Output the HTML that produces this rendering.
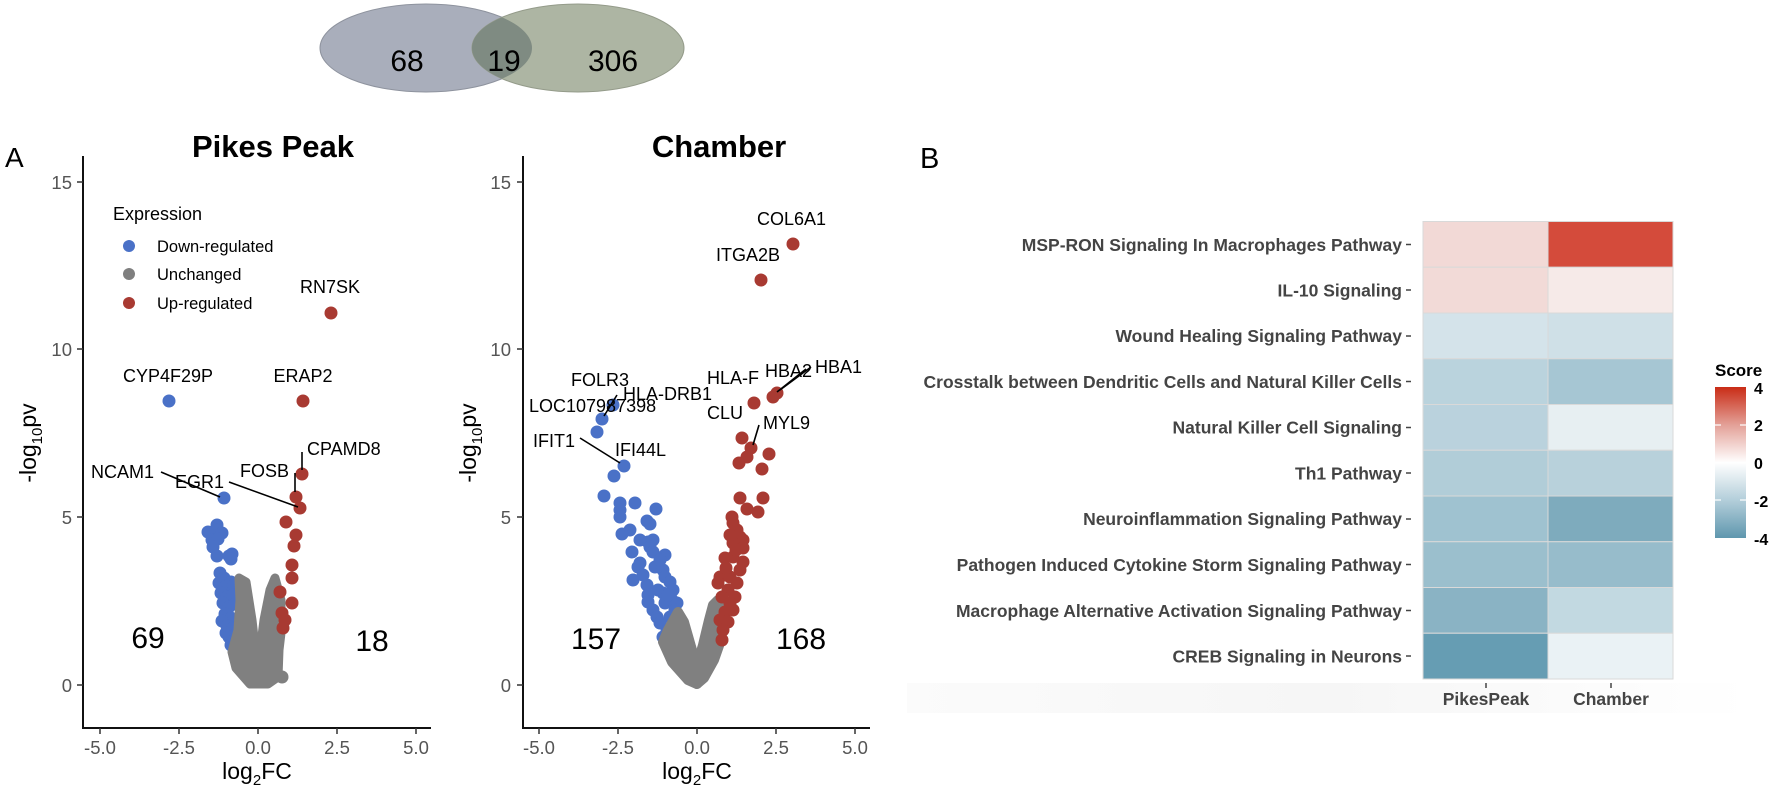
<!DOCTYPE html>
<html><head><meta charset="utf-8"><style>
html,body{margin:0;padding:0;background:#fff;}
svg{display:block;}
text{font-family:"Liberation Sans",Arial,sans-serif;}
</style></head><body>
<svg width="1772" height="791" viewBox="0 0 1772 791" xmlns="http://www.w3.org/2000/svg">
<defs>
<linearGradient id="cb" x1="0" y1="0" x2="0" y2="1">
<stop offset="0" stop-color="#c92c16"/>
<stop offset="0.25" stop-color="#e3a097"/>
<stop offset="0.5" stop-color="#ffffff"/>
<stop offset="0.75" stop-color="#b3ceda"/>
<stop offset="1" stop-color="#5f97ae"/>
</linearGradient>
<linearGradient id="shade" x1="0" y1="0" x2="1" y2="0">
<stop offset="0" stop-color="#fbfbfb"/>
<stop offset="0.5" stop-color="#f6f6f6"/>
<stop offset="1" stop-color="#ffffff"/>
</linearGradient>
</defs>

<!-- Venn -->
<ellipse cx="426" cy="48" rx="106" ry="44" fill="#a9aebb" stroke="#8e939e" stroke-width="1"/>
<ellipse cx="578" cy="48" rx="106" ry="44" fill="#adb5a3" stroke="#949b8a" stroke-width="1"/>
<clipPath id="vc"><ellipse cx="426" cy="48" rx="106" ry="44"/></clipPath>
<ellipse cx="578" cy="48" rx="106" ry="44" fill="#7f8b82" clip-path="url(#vc)"/>
<text x="407" y="71" font-size="30" text-anchor="middle">68</text>
<text x="504" y="71" font-size="30" text-anchor="middle">19</text>
<text x="613" y="71" font-size="30" text-anchor="middle">306</text>

<!-- Panel letters -->
<text x="5" y="167" font-size="28">A</text>
<text x="920" y="168" font-size="29">B</text>

<!-- ===== Pikes Peak ===== -->
<text x="273" y="157" font-size="31" font-weight="bold" text-anchor="middle">Pikes Peak</text>
<g stroke="#111" stroke-width="2" fill="none">
<line x1="83" y1="156" x2="83" y2="729"/>
<line x1="82" y1="728" x2="431" y2="728"/>
</g>
<g stroke="#333" stroke-width="1.5">
<line x1="77" y1="182" x2="83" y2="182"/><line x1="77" y1="349" x2="83" y2="349"/>
<line x1="77" y1="517" x2="83" y2="517"/><line x1="77" y1="685" x2="83" y2="685"/>
<line x1="100" y1="728" x2="100" y2="734"/><line x1="179" y1="728" x2="179" y2="734"/>
<line x1="258" y1="728" x2="258" y2="734"/><line x1="337" y1="728" x2="337" y2="734"/>
<line x1="416" y1="728" x2="416" y2="734"/>
</g>
<g font-size="18.5" fill="#555" text-anchor="end">
<text x="72" y="189">15</text><text x="72" y="356">10</text>
<text x="72" y="524">5</text><text x="72" y="692">0</text>
</g>
<g font-size="18.5" fill="#555" text-anchor="middle">
<text x="100" y="754">-5.0</text><text x="179" y="754">-2.5</text><text x="258" y="754">0.0</text>
<text x="337" y="754">2.5</text><text x="416" y="754">5.0</text>
</g>
<text x="257" y="779" font-size="23" text-anchor="middle">log<tspan font-size="15" dy="6">2</tspan><tspan dy="-6">FC</tspan></text>
<text transform="translate(36,443) rotate(-90)" font-size="23" text-anchor="middle">-log<tspan font-size="15" dy="6">10</tspan><tspan dy="-6">pv</tspan></text>

<!-- legend -->
<text x="113" y="220" font-size="18">Expression</text>
<circle cx="129" cy="246" r="6" fill="#4a71c7"/>
<circle cx="129" cy="274" r="6" fill="#7f7f7f"/>
<circle cx="129" cy="303" r="6" fill="#a83a32"/>
<g font-size="16.5"><text x="157" y="252">Down-regulated</text><text x="157" y="280">Unchanged</text><text x="157" y="309">Up-regulated</text></g>

<!-- Pikes blue -->
<g fill="#4a71c7">
<circle cx="169" cy="401" r="6.5"/>
<circle cx="224" cy="498" r="6.5"/>
<circle cx="217" cy="525" r="6.5"/><circle cx="208" cy="532" r="6.5"/><circle cx="216" cy="530" r="6.5"/>
<circle cx="222" cy="533" r="6.5"/><circle cx="212" cy="540" r="6.5"/><circle cx="218" cy="539" r="6.5"/>
<circle cx="213" cy="547" r="6.5"/><circle cx="217" cy="556" r="6.5"/><circle cx="229" cy="556" r="6.5"/>
<circle cx="232" cy="554" r="6.5"/><circle cx="231" cy="559" r="6.5"/>
<circle cx="220" cy="573" r="6.5"/><circle cx="224" cy="578" r="6.5"/><circle cx="219" cy="583" r="6.5"/>
<circle cx="225" cy="587" r="6.5"/><circle cx="231" cy="582" r="6.5"/><circle cx="234" cy="585" r="6.5"/>
<circle cx="221" cy="593" r="6.5"/><circle cx="227" cy="597" r="6.5"/><circle cx="233" cy="595" r="6.5"/>
<circle cx="223" cy="603" r="6.5"/><circle cx="229" cy="607" r="6.5"/><circle cx="235" cy="604" r="6.5"/>
<circle cx="225" cy="614" r="6.5"/><circle cx="231" cy="618" r="6.5"/><circle cx="222" cy="621" r="6.5"/>
<circle cx="227" cy="626" r="6.5"/><circle cx="233" cy="628" r="6.5"/><circle cx="226" cy="633" r="6.5"/>
<circle cx="229" cy="637" r="6.5"/><circle cx="233" cy="641" r="6.5"/><circle cx="231" cy="645" r="6.5"/>
</g>
<!-- Pikes gray -->
<g fill="#808080" stroke="#808080" stroke-width="9" stroke-linejoin="round">
<polygon points="239,578 246,582 252,620 256,655 258,684 250,684 236,668 232,652 238,630 240,600"/>
<polygon points="275,578 281,600 281,633 279,650 278,677 268,684 258,684 259,660 264,620 270,590"/>
</g>
<g fill="#808080"><circle cx="282" cy="677" r="6.5"/><circle cx="270" cy="679" r="6.5"/></g>
<!-- Pikes red -->
<g fill="#a83a32">
<circle cx="331" cy="313" r="6.5"/><circle cx="303" cy="401" r="6.5"/>
<circle cx="302" cy="474" r="6.5"/><circle cx="296" cy="497" r="6.5"/><circle cx="300" cy="508" r="6.5"/>
<circle cx="286" cy="522" r="6.5"/><circle cx="296" cy="535" r="6.5"/><circle cx="294" cy="546" r="6.5"/>
<circle cx="292" cy="565" r="6.5"/><circle cx="292" cy="578" r="6.5"/><circle cx="280" cy="592" r="6.5"/>
<circle cx="292" cy="603" r="6.5"/><circle cx="282" cy="613" r="6.5"/>
<circle cx="285" cy="620" r="6.5"/><circle cx="283" cy="628" r="6.5"/>
</g>
<!-- Pikes labels -->
<g font-size="18">
<text x="330" y="293" text-anchor="middle">RN7SK</text>
<text x="168" y="382" text-anchor="middle">CYP4F29P</text>
<text x="303" y="382" text-anchor="middle">ERAP2</text>
<text x="307" y="455">CPAMD8</text>
<text x="240" y="477">FOSB</text>
<text x="91" y="478">NCAM1</text>
<text x="175" y="488">EGR1</text>
</g>
<g stroke="#000" stroke-width="1.6">
<line x1="302" y1="452" x2="302" y2="470"/>
<line x1="295" y1="473" x2="295" y2="492"/>
<line x1="229" y1="482" x2="298" y2="507"/>
<line x1="161" y1="472" x2="220" y2="497"/>
</g>
<text x="148" y="648" font-size="30" text-anchor="middle">69</text>
<text x="372" y="651" font-size="30" text-anchor="middle">18</text>

<!-- ===== Chamber ===== -->
<text x="719" y="157" font-size="31" font-weight="bold" text-anchor="middle">Chamber</text>
<g stroke="#111" stroke-width="2" fill="none">
<line x1="523" y1="156" x2="523" y2="729"/>
<line x1="522" y1="728" x2="870" y2="728"/>
</g>
<g stroke="#333" stroke-width="1.5">
<line x1="517" y1="182" x2="523" y2="182"/><line x1="517" y1="349" x2="523" y2="349"/>
<line x1="517" y1="517" x2="523" y2="517"/><line x1="517" y1="685" x2="523" y2="685"/>
<line x1="539" y1="728" x2="539" y2="734"/><line x1="618" y1="728" x2="618" y2="734"/>
<line x1="697" y1="728" x2="697" y2="734"/><line x1="776" y1="728" x2="776" y2="734"/>
<line x1="855" y1="728" x2="855" y2="734"/>
</g>
<g font-size="18.5" fill="#555" text-anchor="end">
<text x="511" y="189">15</text><text x="511" y="356">10</text>
<text x="511" y="524">5</text><text x="511" y="692">0</text>
</g>
<g font-size="18.5" fill="#555" text-anchor="middle">
<text x="539" y="754">-5.0</text><text x="618" y="754">-2.5</text><text x="697" y="754">0.0</text>
<text x="776" y="754">2.5</text><text x="855" y="754">5.0</text>
</g>
<text x="697" y="779" font-size="23" text-anchor="middle">log<tspan font-size="15" dy="6">2</tspan><tspan dy="-6">FC</tspan></text>
<text transform="translate(476,443) rotate(-90)" font-size="23" text-anchor="middle">-log<tspan font-size="15" dy="6">10</tspan><tspan dy="-6">pv</tspan></text>

<!-- Chamber blue -->
<g fill="#4a71c7">
<circle cx="613" cy="405" r="6.5"/><circle cx="602" cy="419" r="6.5"/><circle cx="597" cy="432" r="6.5"/>
<circle cx="624" cy="466" r="6.5"/><circle cx="614" cy="476" r="6.5"/><circle cx="604" cy="496" r="6.5"/>
<circle cx="620" cy="503" r="6.5"/><circle cx="635" cy="503" r="6.5"/><circle cx="656" cy="509" r="6.5"/>
<circle cx="620" cy="510" r="6.5"/><circle cx="620" cy="517" r="6.5"/><circle cx="647" cy="521" r="6.5"/>
<circle cx="650" cy="524" r="6.5"/><circle cx="630" cy="530" r="6.5"/><circle cx="622" cy="534" r="6.5"/>
<circle cx="640" cy="540" r="6.5"/><circle cx="648" cy="542" r="6.5"/><circle cx="653" cy="540" r="6.5"/>
<circle cx="650" cy="547" r="6.5"/><circle cx="632" cy="552" r="6.5"/><circle cx="665" cy="555" r="6.5"/>
<circle cx="653" cy="552" r="6.5"/><circle cx="640" cy="563" r="6.5"/><circle cx="638" cy="567" r="6.5"/>
<circle cx="655" cy="567" r="6.5"/><circle cx="663" cy="570" r="6.5"/><circle cx="633" cy="580" r="6.5"/>
<circle cx="647" cy="585" r="6.5"/><circle cx="665" cy="577" r="6.5"/><circle cx="670" cy="582" r="6.5"/>
<circle cx="673" cy="590" r="6.5"/><circle cx="663" cy="593" r="6.5"/><circle cx="648" cy="595" r="6.5"/>
<circle cx="648" cy="602" r="6.5"/><circle cx="653" cy="610" r="6.5"/><circle cx="657" cy="617" r="6.5"/>
<circle cx="665" cy="603" r="6.5"/><circle cx="672" cy="600" r="6.5"/><circle cx="677" cy="603" r="6.5"/>
<circle cx="660" cy="623" r="6.5"/><circle cx="667" cy="630" r="6.5"/><circle cx="663" cy="637" r="6.5"/>
<circle cx="670" cy="617" r="6.5"/><circle cx="675" cy="610" r="6.5"/><circle cx="658" cy="590" r="6.5"/>
<circle cx="643" cy="575" r="6.5"/><circle cx="660" cy="560" r="6.5"/><circle cx="668" cy="595" r="6.5"/>
</g>
<!-- Chamber gray -->
<g fill="#808080" stroke="#808080" stroke-width="10" stroke-linejoin="round">
<polygon points="678,612 684,622 692,650 697,665 697,684 688,680 672,662 663,642 668,630"/>
<polygon points="718,600 721,610 721,640 714,660 704,678 697,684 697,665 703,645 709,620 713,605"/>
</g>
<!-- Chamber red -->
<g fill="#a83a32">
<circle cx="793" cy="244" r="6.5"/><circle cx="761" cy="280" r="6.5"/>
<circle cx="777" cy="393" r="6.5"/><circle cx="773" cy="397" r="6.5"/><circle cx="754" cy="403" r="6.5"/>
<circle cx="742" cy="438" r="6.5"/><circle cx="751" cy="448" r="6.5"/><circle cx="769" cy="454" r="6.5"/>
<circle cx="747" cy="457" r="6.5"/><circle cx="739" cy="463" r="6.5"/><circle cx="762" cy="469" r="6.5"/>
<circle cx="740" cy="498" r="6.5"/><circle cx="763" cy="498" r="6.5"/><circle cx="747" cy="509" r="6.5"/>
<circle cx="758" cy="512" r="6.5"/><circle cx="732" cy="517" r="6.5"/><circle cx="733" cy="523" r="6.5"/>
<circle cx="737" cy="530" r="6.5"/><circle cx="740" cy="537" r="6.5"/><circle cx="743" cy="540" r="6.5"/>
<circle cx="733" cy="543" r="6.5"/><circle cx="743" cy="548" r="6.5"/><circle cx="725" cy="558" r="6.5"/>
<circle cx="733" cy="557" r="6.5"/><circle cx="743" cy="562" r="6.5"/><circle cx="740" cy="570" r="6.5"/>
<circle cx="720" cy="577" r="6.5"/><circle cx="730" cy="577" r="6.5"/><circle cx="737" cy="583" r="6.5"/>
<circle cx="718" cy="583" r="6.5"/><circle cx="728" cy="590" r="6.5"/><circle cx="735" cy="597" r="6.5"/>
<circle cx="722" cy="597" r="6.5"/><circle cx="730" cy="603" r="6.5"/><circle cx="725" cy="612" r="6.5"/>
<circle cx="720" cy="620" r="6.5"/><circle cx="728" cy="622" r="6.5"/><circle cx="723" cy="630" r="6.5"/>
<circle cx="722" cy="640" r="6.5"/><circle cx="733" cy="610" r="6.5"/><circle cx="726" cy="568" r="6.5"/>
<circle cx="736" cy="550" r="6.5"/><circle cx="730" cy="535" r="6.5"/>
</g>
<!-- Chamber labels -->
<g font-size="18">
<text x="757" y="225">COL6A1</text>
<text x="716" y="261">ITGA2B</text>
<text x="571" y="386">FOLR3</text>
<text x="623" y="400">HLA-DRB1</text>
<text x="529" y="412">LOC107987398</text>
<text x="707" y="384">HLA-F</text>
<text x="765" y="377">HBA2</text>
<text x="815" y="373">HBA1</text>
<text x="707" y="419">CLU</text>
<text x="763" y="429">MYL9</text>
<text x="533" y="447">IFIT1</text>
<text x="615" y="456">IFI44L</text>
</g>
<g stroke="#000" stroke-width="1.6">
<line x1="617" y1="395" x2="604" y2="416"/>
<line x1="811" y1="367" x2="780" y2="390"/>
<line x1="806" y1="369" x2="777" y2="392"/>
<line x1="759" y1="425" x2="753" y2="445"/>
<line x1="580" y1="438" x2="620" y2="463"/>
</g>
<text x="596" y="649" font-size="30" text-anchor="middle">157</text>
<text x="801" y="649" font-size="30" text-anchor="middle">168</text>

<!-- ===== Heatmap ===== -->
<rect x="907" y="683" width="843" height="30" fill="url(#shade)"/>
<g stroke="#d9d9d9" stroke-width="1">
<rect x="1423" y="221.5" width="125" height="45.75" fill="#f2d9d6"/><rect x="1548" y="221.5" width="125" height="45.75" fill="#d44b3b"/>
<rect x="1423" y="267.25" width="125" height="45.75" fill="#f2dad7"/><rect x="1548" y="267.25" width="125" height="45.75" fill="#f6eae8"/>
<rect x="1423" y="313" width="125" height="45.75" fill="#d4e3ea"/><rect x="1548" y="313" width="125" height="45.75" fill="#cfe0e7"/>
<rect x="1423" y="358.75" width="125" height="45.75" fill="#bad3dd"/><rect x="1548" y="358.75" width="125" height="45.75" fill="#a6c6d3"/>
<rect x="1423" y="404.5" width="125" height="45.75" fill="#bad2dd"/><rect x="1548" y="404.5" width="125" height="45.75" fill="#e7eff2"/>
<rect x="1423" y="450.25" width="125" height="45.75" fill="#b1cdd8"/><rect x="1548" y="450.25" width="125" height="45.75" fill="#b8d1db"/>
<rect x="1423" y="496" width="125" height="45.75" fill="#9fc2d0"/><rect x="1548" y="496" width="125" height="45.75" fill="#7eabbd"/>
<rect x="1423" y="541.75" width="125" height="45.75" fill="#9bbfcd"/><rect x="1548" y="541.75" width="125" height="45.75" fill="#97bccb"/>
<rect x="1423" y="587.5" width="125" height="45.75" fill="#8ab3c4"/><rect x="1548" y="587.5" width="125" height="45.75" fill="#c2d9e1"/>
<rect x="1423" y="633.25" width="125" height="45.75" fill="#669db3"/><rect x="1548" y="633.25" width="125" height="45.75" fill="#eaf2f5"/>
</g>
<g font-size="17.5" font-weight="bold" fill="#444" text-anchor="end">
<text x="1402" y="251">MSP-RON Signaling In Macrophages Pathway</text>
<text x="1402" y="296.5">IL-10 Signaling</text>
<text x="1402" y="342">Wound Healing Signaling Pathway</text>
<text x="1402" y="388">Crosstalk between Dendritic Cells and Natural Killer Cells</text>
<text x="1402" y="433.5">Natural Killer Cell Signaling</text>
<text x="1402" y="479.5">Th1 Pathway</text>
<text x="1402" y="525">Neuroinflammation Signaling Pathway</text>
<text x="1402" y="571">Pathogen Induced Cytokine Storm Signaling Pathway</text>
<text x="1402" y="617">Macrophage Alternative Activation Signaling Pathway</text>
<text x="1402" y="662.5">CREB Signaling in Neurons</text>
</g>
<g stroke="#444" stroke-width="1.5">
<line x1="1406" y1="244.5" x2="1411" y2="244.5"/><line x1="1406" y1="290" x2="1411" y2="290"/>
<line x1="1406" y1="336" x2="1411" y2="336"/><line x1="1406" y1="381.5" x2="1411" y2="381.5"/>
<line x1="1406" y1="427.5" x2="1411" y2="427.5"/><line x1="1406" y1="473" x2="1411" y2="473"/>
<line x1="1406" y1="519" x2="1411" y2="519"/><line x1="1406" y1="564.5" x2="1411" y2="564.5"/>
<line x1="1406" y1="610.5" x2="1411" y2="610.5"/><line x1="1406" y1="656" x2="1411" y2="656"/>
<line x1="1486" y1="683" x2="1486" y2="688"/><line x1="1611" y1="683" x2="1611" y2="688"/>
</g>
<g font-size="17.5" font-weight="bold" fill="#444" text-anchor="middle">
<text x="1486" y="705">PikesPeak</text><text x="1611" y="705">Chamber</text>
</g>
<!-- legend -->
<text x="1715" y="376" font-size="17" font-weight="bold">Score</text>
<rect x="1715" y="387" width="31" height="151" fill="url(#cb)"/>
<g stroke="#fff" stroke-width="1.2">
<line x1="1715" y1="425" x2="1721" y2="425"/><line x1="1740" y1="425" x2="1746" y2="425"/>
<line x1="1715" y1="463" x2="1721" y2="463"/><line x1="1740" y1="463" x2="1746" y2="463"/>
<line x1="1715" y1="500" x2="1721" y2="500"/><line x1="1740" y1="500" x2="1746" y2="500"/>
</g>
<g font-size="16" font-weight="bold">
<text x="1754" y="394">4</text><text x="1754" y="431">2</text><text x="1754" y="469">0</text>
<text x="1754" y="507">-2</text><text x="1754" y="545">-4</text>
</g>
</svg>
</body></html>
